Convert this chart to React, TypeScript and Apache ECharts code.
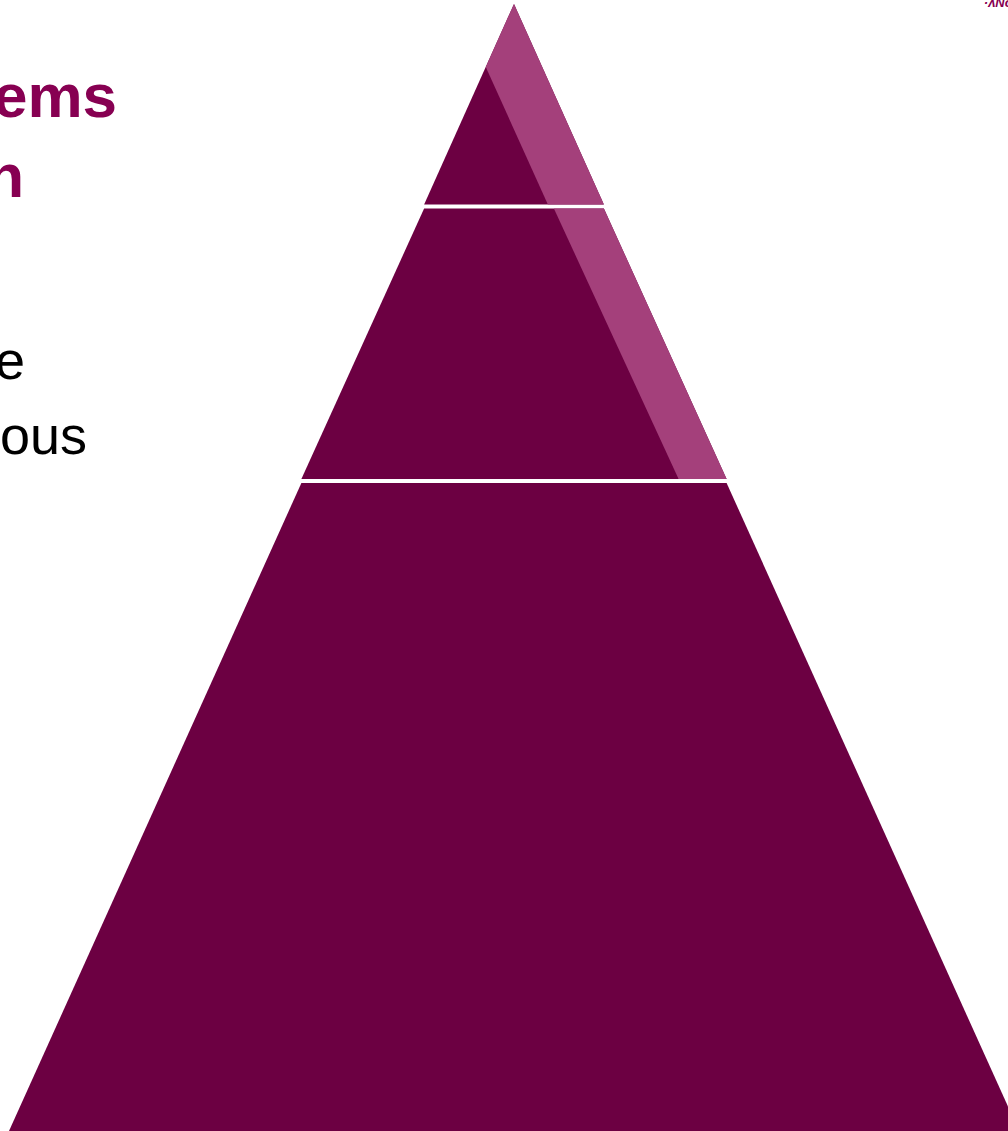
import React, { useEffect, useRef } from "react";
import * as echarts from "echarts";

// Pyramid tiers (top to base)
const tierNames = ["Top", "Middle", "Base"];
// width at the lower edge of each tier, % of the base width
const tierWidths = [17.8, 42.1, 100];
// height of each tier, % of the pyramid height
const tierHeights = [17.8, 24.0, 57.5];

// Visible (cropped) slide texts
const titleLines = ["ems", "n"];
const bodyLines = ["e", "ous"];
const cornerText = "\u00b7\u028cNc";

const DARK = "#6C0042";
const LIGHT = "#A4407B";
const TITLE = "#870052";

const PYR = { left: 9, top: 4, width: 1010, height: 1127 };
const GAP = 4;

export default function App() {
  const ref = useRef<HTMLDivElement>(null);

  useEffect(() => {
    document.body.style.margin = "0";
    if (!ref.current) return;
    const chart = echarts.init(ref.current, undefined, { renderer: "svg" });

    // geometry helpers matching the funnel layout
    const cx = PYR.left + PYR.width / 2;
    const half = (pct: number) => (pct / 100) * (PYR.width / 2);
    const hPx = tierHeights.map((h) => (h / 100) * PYR.height);
    const baseBottom = PYR.top + PYR.height;
    const baseTop = baseBottom - hPx[2];
    const midBottom = baseTop - GAP;
    const midTop = midBottom - hPx[1];
    const topBottom = midTop - GAP;
    const apexY = topBottom - hPx[0];

    // highlight strip (sheen along the right face of the two upper tiers)
    const innerApexY = apexY + 63;
    const slope = half(tierWidths[0]) / (topBottom - apexY);
    const innerApexX = cx - slope * (innerApexY - apexY);
    const stripTop = [
      [cx, apexY],
      [cx + half(tierWidths[0]), topBottom],
      [cx + half(tierWidths[0]) - 56, topBottom],
      [innerApexX, innerApexY],
    ];
    const stripMid = [
      [cx + half(tierWidths[0]), midTop],
      [cx + half(tierWidths[1]), midBottom],
      [cx + half(tierWidths[1]) - 48, midBottom],
      [cx + half(tierWidths[0]) - 50, midTop],
    ];

    const titleSize = 62;
    const bodySize = 54;
    const titleRight = [117, 24];
    const bodyRight = [25, 87];

    const graphics: any[] = [
      { type: "polygon", z: 100, silent: true, shape: { points: stripTop }, style: { fill: LIGHT } },
      { type: "polygon", z: 100, silent: true, shape: { points: stripMid }, style: { fill: LIGHT } },
      ...titleLines.map((t, i) => ({
        type: "text",
        z: 100,
        x: titleRight[i],
        y: 117 - titleSize * 0.35 + i * 80,
        style: {
          text: t,
          fill: TITLE,
          font: `bold ${titleSize}px "Liberation Sans", Arial, sans-serif`,
          align: "right",
          verticalAlign: "middle",
        },
      })),
      ...bodyLines.map((t, i) => ({
        type: "text",
        z: 100,
        x: bodyRight[i],
        y: 379 - bodySize * 0.35 + i * 75,
        style: {
          text: t,
          fill: "#000000",
          font: `${bodySize}px "Liberation Sans", Arial, sans-serif`,
          align: "right",
          verticalAlign: "middle",
        },
      })),
      {
        type: "text",
        z: 100,
        x: 1012,
        y: 2,
        style: {
          text: cornerText,
          fill: TITLE,
          font: `italic bold 13px "Liberation Sans", Arial, sans-serif`,
          align: "right",
          verticalAlign: "middle",
        },
      },
    ];

    chart.setOption({
      animation: false,
      backgroundColor: "#ffffff",
      series: [
        {
          type: "funnel",
          left: PYR.left,
          top: PYR.top,
          width: PYR.width,
          height: PYR.height,
          sort: "ascending",
          gap: GAP,
          min: 0,
          max: 100,
          minSize: "0%",
          maxSize: "100%",
          silent: true,
          label: { show: false },
          labelLine: { show: false },
          itemStyle: { color: DARK, borderWidth: 0 },
          emphasis: { disabled: true },
          data: tierNames.map((name, i) => ({
            name,
            value: tierWidths[i],
            itemStyle: { height: tierHeights[i] + "%" },
          })),
        },
      ],
      graphic: graphics,
    });

    return () => chart.dispose();
  }, []);

  return <div ref={ref} style={{ width: 1008, height: 1131 }} />;
}
